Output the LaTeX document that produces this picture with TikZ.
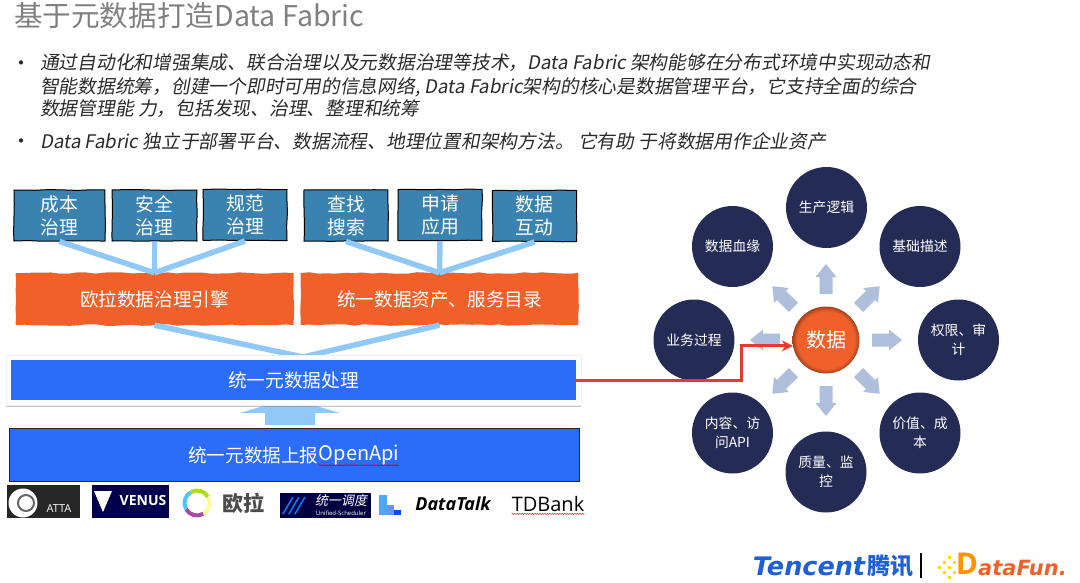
\documentclass[tikz,border=0pt]{standalone}
\usepackage{fontspec}
\setmainfont{Noto Sans CJK SC}
\newfontfamily\slantfont{Noto Sans CJK SC}[FakeSlant=0.18]
\newfontfamily\logofont{Open Sans}
\newfontfamily\wideface{DejaVu Sans}
\usetikzlibrary{calc}
\usetikzlibrary{shadows}
\usetikzlibrary{arrows.meta}
\usetikzlibrary{decorations.pathmorphing}
\definecolor{titlegray}{HTML}{808080}
\definecolor{bodyink}{HTML}{2A2A2A}
\definecolor{tealbox}{HTML}{3A82AF}
\definecolor{orangebox}{HTML}{EF602B}
\definecolor{bluebar}{HTML}{2B6CF8}
\definecolor{linkblue}{HTML}{90C8F8}
\definecolor{navydisc}{HTML}{242C55}
\definecolor{spokeblue}{HTML}{AEBFDC}
\definecolor{redline}{HTML}{E8392E}
\definecolor{tencentblue}{HTML}{1F5FD8}
\pgfdeclareradialshading{orbshade}{\pgfpointorigin}{color(0bp)=(orangebox); color(21.5bp)=(orangebox); color(25bp)=(orangebox!68!black); color(50bp)=(orangebox!68!black)}
\tikzset{
  bodyline/.style={anchor=west,inner sep=0pt,text=bodyink,font=\slantfont\fontsize{18.75}{23}\selectfont},
  dotmark/.style={anchor=center,inner sep=0pt,text=bodyink,font=\fontsize{20}{24}\selectfont},
  tealnode/.style={draw=black,line width=1pt,fill=tealbox,text=white,inner sep=0pt,minimum height=51pt,align=center,font=\fontsize{18.8}{23}\selectfont,decorate,decoration={random steps,segment length=14pt,amplitude=0.5pt}},
  enginenode/.style={fill=orangebox,text=white,inner sep=0pt,minimum width=278pt,minimum height=52pt,font=\fontsize{18.6}{23}\selectfont,decorate,decoration={random steps,segment length=9pt,amplitude=0.8pt}},
  linkline/.style={draw=linkblue,line width=5.5pt},
  discnode/.style={circle,fill=navydisc,text=white,inner sep=0pt,minimum size=81pt,align=center,font=\fontsize{13.8}{19}\selectfont},
  spoke/.style={fill=spokeblue},
  squiggle/.style={draw=red!80!black,line width=0.4pt,decorate,decoration={snake,amplitude=0.6pt,segment length=2.5pt}},
}
\begin{document}
\begin{tikzpicture}[x=1pt,y=-1pt]
  \useasboundingbox (0,0) rectangle (1080,582);
  \node [anchor=west,inner sep=0pt,text=titlegray,font=\fontsize{28.6}{32}\selectfont] (title) at (14,16) {基于元数据打造Data Fabric};
  \node [dotmark] (dota) at (21,66) {•};
  \node [bodyline] (linea) at (40,63) {通过自动化和增强集成、联合治理以及元数据治理等技术，Data Fabric 架构能够在分布式环境中实现动态和};
  \node [bodyline] (lineb) at (40,87) {智能数据统筹，创建一个即时可用的信息网络, Data Fabric架构的核心是数据管理平台，它支持全面的综合};
  \node [bodyline] (linec) at (40,109) {数据管理能 力，包括发现、治理、整理和统筹};
  \node [dotmark] (dotb) at (21,144) {•};
  \node [bodyline] (lined) at (40,141) {Data Fabric 独立于部署平台、数据流程、地理位置和架构方法。 它有助 于将数据用作企业资产};

  \node [tealnode,minimum width=91pt] (cost) at (59.5,215.5) {成本\\治理};
  \node [tealnode,minimum width=85pt] (safe) at (154.5,215.5) {安全\\治理};
  \node [tealnode,minimum width=84pt] (norm) at (245,215) {规范\\治理};
  \node [tealnode,minimum width=84pt] (find) at (346,215.5) {查找\\搜索};
  \node [tealnode,minimum width=84pt] (apply) at (440,215) {申请\\应用};
  \node [tealnode,minimum width=84pt] (share) at (534.5,216) {数据\\互动};
  \node [enginenode] (engine) at (154.5,299) {欧拉数据治理引擎};
  \node [enginenode] (catalog) at (439.5,299) {统一数据资产、服务目录};
  \draw [linkline] (cost.south) -- (engine.north);
  \draw [linkline] (safe.south) -- (engine.north);
  \draw [linkline] (norm.south) -- (engine.north);
  \draw [linkline] (find.south) -- (catalog.north);
  \draw [linkline] (apply.south) -- (catalog.north);
  \draw [linkline] (share.south) -- (catalog.north);
  \coordinate (joint) at (303,357);
  \draw [linkline] (engine.south) -- (joint);
  \draw [linkline] (catalog.south) -- (joint);

  \coordinate (feed) at (290,425);
  \fill [linkblue,shift={(feed)}] (-25,0) -- (-25,-12) -- (-50,-12) -- (0,-27) -- (50,-12) -- (25,-12) -- (25,0) -- cycle;
  \node [fill=white,draw=black!6,drop shadow={shadow xshift=0pt,shadow yshift=-2pt,opacity=0.45},minimum width=575pt,minimum height=50pt,inner sep=0pt] (frame) at (293.5,380) {};
  \node [fill=bluebar,text=white,minimum width=565pt,minimum height=40pt,inner sep=0pt,font=\fontsize{18.7}{23}\selectfont] (process) at (293.5,380) {统一元数据处理};
  \node [draw=black!85,line width=1pt,fill=bluebar,minimum width=570pt,minimum height=53pt,inner sep=0pt] (report) at (294,454.5) {};
  \node [anchor=west,inner sep=0pt,text=white,font=\fontsize{18.6}{23}\selectfont] (reporttext) at (188,455) {统一元数据上报};
  \node [anchor=west,inner sep=0pt,text=white,font=\fontsize{20}{23}\selectfont] (openapi) at (reporttext.east) {OpenApi};
  \draw [squiggle] (openapi.south west) -- (openapi.south east);

  \node [fill=black!85,minimum width=73pt,minimum height=33pt,inner sep=0pt] (atta) at (43.5,501.5) {};
  \node [circle,fill=white,minimum size=29pt,inner sep=0pt] (attadisc) at (23,503) {};
  \draw [black!60,line width=2pt] (attadisc.center) ++(3,0) circle [radius=8];
  \node [anchor=center,inner sep=0pt,text=white,font=\logofont\fontsize{11}{12}\selectfont] (attatext) at (59,509) {ATTA};
  \node [fill=blue!30!black,minimum width=77pt,minimum height=33pt,inner sep=0pt] (venus) at (130.5,501.5) {};
  \fill [white] (94,491) -- (112,491) -- (103,512) -- cycle;
  \node [anchor=center,inner sep=0pt,text=white,font=\logofont\bfseries\fontsize{14}{16}\selectfont] (venustext) at (143,500) {VENUS};
  \node [circle,minimum size=26pt,inner sep=0pt] (oularing) at (197,503) {};
  \foreach \a/\b/\c in {-60/30/yellow!40,30/120/yellow!70!green,120/210/cyan!70,210/300/violet!70} {
    \draw [line width=4pt,color=\c,shift={(oularing.center)},y=1pt] (\a:12.5) arc [start angle=\a,end angle=\b,radius=12.5];
  }
  \node [anchor=center,inner sep=0pt,text=black!70,font=\bfseries\fontsize{21}{24}\selectfont] (oulatext) at (243,503) {欧拉};
  \node [fill=blue!25!black,minimum width=91pt,minimum height=25pt,inner sep=0pt] (sched) at (325.5,505.5) {};
  \foreach \i in {0,6,12} {
    \draw [blue!50!cyan,line width=1.5pt] ($(sched.south west)+(\i+3,-4)$) -- ($(sched.south west)+(\i+13,-21)$);
  }
  \node [anchor=center,inner sep=0pt,text=white,font=\slantfont\fontsize{13}{14}\selectfont] (schedtext) at (341,501) {统一调度};
  \node [anchor=center,inner sep=0pt,text=white,font=\logofont\fontsize{6}{7}\selectfont] (schedsub) at (341,513) {Unified-Scheduler};
  \fill [blue!50!cyan!70] (379,495) rectangle (387,515);
  \fill [blue!70!cyan!60] (387,505) rectangle (394,515);
  \fill [blue!70!cyan] (394,510) rectangle (401,515);
  \node [anchor=center,inner sep=0pt,text=black,font=\logofont\bfseries\itshape\fontsize{18}{20}\selectfont] (datatalk) at (453,504) {DataTalk};
  \node [anchor=center,inner sep=0pt,text=black,font=\logofont\fontsize{20}{22}\selectfont] (tdbank) at (548,504) {TDBank};
  \draw [squiggle] ($(tdbank.south west)+(0,2)$) -- ($(tdbank.south east)+(0,2)$);

  \node [circle,shading=orbshade,text=white,inner sep=0pt,minimum size=67pt,font=\fontsize{20}{24}\selectfont] (core) at (826,340) {数据};
  \node [discnode] (logic) at (826.5,207.5) {生产逻辑};
  \node [discnode] (basic) at (920,246.5) {基础描述};
  \node [discnode] (rights) at (958.5,340) {权限、审\\计};
  \node [discnode] (value) at (920,433) {价值、成\\本};
  \node [discnode] (quality) at (826,472) {质量、监\\控};
  \node [discnode] (content) at (732.5,433) {内容、访\\问API};
  \node [discnode] (business) at (694,340) {业务过程};
  \node [discnode] (lineage) at (732.5,246.5) {数据血缘};
  \foreach \a in {0,45,...,315} {
    \fill [spoke,shift={(core.center)},rotate=\a] (46,-6.5) -- (63,-6.5) -- (63,-10.5) -- (76,0) -- (63,10.5) -- (63,6.5) -- (46,6.5) -- cycle;
  }
  \draw [draw=redline,line width=3pt,-{Stealth[length=11pt,width=11pt]}] (process.east) -- ++(165,0) |- (core.190);

  \node [anchor=center,inner sep=0pt,text=tencentblue,font=\wideface\bfseries\itshape\fontsize{25.5}{28}\selectfont] (tencent) at (809,566) {Tencent};
  \node [anchor=center,inner sep=0pt,text=tencentblue,font=\bfseries\fontsize{23}{25}\selectfont] (tengxun) at (890,566) {腾讯};
  \node [fill=black,minimum width=1.5pt,minimum height=25pt,inner sep=0pt] (divider) at (921,565.5) {};
  \foreach \x/\y in {938/566,943/561,943/571,948/556,948/566,948/576,953/561,953/571} {
    \fill [yellow!80!orange] (\x,\y) rectangle ++(3,3);
  }
  \node [anchor=center,inner sep=0pt,text=orange!85!yellow,font=\logofont\bfseries\fontsize{30}{32}\selectfont] (bigd) at (967,564) {D};
  \node [anchor=west,inner sep=0pt,text=orangebox,font=\wideface\bfseries\itshape\fontsize{21}{24}\selectfont] (datafun) at (978,568) {ataFun.};
\end{tikzpicture}
\end{document}
